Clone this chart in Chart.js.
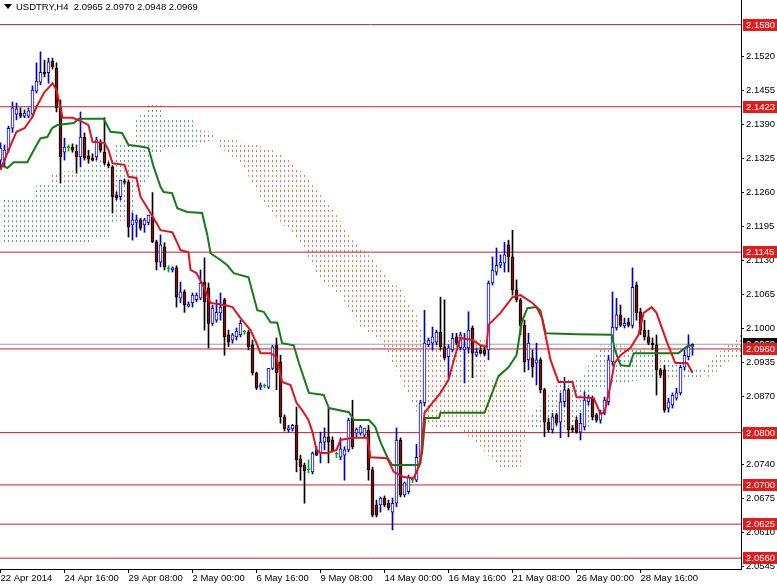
<!DOCTYPE html>
<html>
<head>
<meta charset="utf-8">
<script src="https://cdn.jsdelivr.net/npm/chart.js@4.4.1/dist/chart.umd.min.js"></script>
<style>
  html, body { margin: 0; padding: 0; background: #fff; }
  #wrap { width: 777px; height: 585px; }
</style>
</head>
<body>
<div id="wrap"><canvas id="chart" width="777" height="585"></canvas></div>
<script>
// USDTRY H4, 22 Apr - 30 May 2014, one bar every 4 hours
const symbolTitle = 'USDTRY,H4  2.0965 2.0970 2.0948 2.0969';

const dateTickBars = [0, 16, 32, 48, 64, 80, 96, 112, 128, 144, 160];
const dateLabels = ['22 Apr 2014', '24 Apr 16:00', '29 Apr 08:00', '2 May 00:00', '6 May 16:00',
  '9 May 08:00', '14 May 00:00', '16 May 16:00', '21 May 08:00', '26 May 00:00', '28 May 16:00'];

const priceTicks = [2.0545, 2.0610, 2.0675, 2.0740, 2.0805, 2.0870, 2.0935, 2.1000,
  2.1065, 2.1130, 2.1195, 2.1260, 2.1325, 2.1390, 2.1455, 2.1520];

// horizontal support / resistance lines
const levels = [2.1580, 2.1423, 2.1145, 2.0960, 2.0800, 2.0700, 2.0625, 2.0560];
const bidPrice = 2.0969;

const open = [
  2.1321, 2.1321, 2.1340, 2.1382, 2.1409, 2.1411, 2.1405, 2.1405, 2.1409, 2.1453,
  2.1470, 2.1489, 2.1488, 2.1510, 2.1497, 2.1421, 2.1336, 2.1345, 2.1346, 2.1338,
  2.1327, 2.1365, 2.1329, 2.1325, 2.1327, 2.1354, 2.1336, 2.1313, 2.1308, 2.1254,
  2.1251, 2.1281, 2.1279, 2.1197, 2.1202, 2.1207, 2.1197, 2.1202, 2.1212, 2.1165,
  2.1126, 2.1155, 2.1113, 2.1111, 2.1115, 2.1057, 2.1069, 2.1042, 2.1048, 2.1054,
  2.1057, 2.1088, 2.1077, 2.1009, 2.1015, 2.1029, 2.1054, 2.0987, 2.0977, 2.0983,
  2.0987, 2.0992, 2.0992, 2.0968, 2.0914, 2.0887, 2.0889, 2.0887, 2.0923, 2.0968,
  2.0935, 2.0830, 2.0805, 2.0807, 2.0814, 2.0750, 2.0738, 2.0729, 2.0725, 2.0767,
  2.0761, 2.0782, 2.0792, 2.0786, 2.0759, 2.0753, 2.0757, 2.0767, 2.0828, 2.0799,
  2.0799, 2.0795, 2.0805, 2.0729, 2.0662, 2.0662, 2.0675, 2.0665, 2.0648, 2.0665,
  2.0786, 2.0681, 2.0687, 2.0709, 2.0709, 2.0753, 2.0857, 2.0968, 2.0971, 2.0973,
  2.0992, 2.0964, 2.0945, 2.0958, 2.0983, 2.0962, 2.0958, 2.0962, 2.1000, 2.0948,
  2.0958, 2.0958, 2.0958, 2.1086, 2.1107, 2.1120, 2.1124, 2.1159, 2.1136, 2.1073,
  2.1054, 2.1005, 2.0939, 2.0943, 2.0933, 2.0939, 2.0882, 2.0820, 2.0805, 2.0834,
  2.0820, 2.0859, 2.0882, 2.0809, 2.0824, 2.0801, 2.0811, 2.0859, 2.0866, 2.0834,
  2.0824, 2.0837, 2.0859, 2.0935, 2.1000, 2.1025, 2.1004, 2.1011, 2.1005, 2.1082,
  2.1031, 2.0996, 2.0983, 2.0971, 2.0968, 2.0920, 2.0920, 2.0847, 2.0853, 2.0866,
  2.0876, 2.0925, 2.0945, 2.0965
];
const high = [
  2.1354, 2.1350, 2.1386, 2.1432, 2.1430, 2.1421, 2.1417, 2.1421, 2.1463, 2.1507,
  2.1528, 2.1512, 2.1516, 2.1516, 2.1507, 2.1436, 2.1363, 2.1350, 2.1352, 2.1350,
  2.1413, 2.1373, 2.1340, 2.1333, 2.1365, 2.1360, 2.1402, 2.1317, 2.1310, 2.1260,
  2.1283, 2.1285, 2.1283, 2.1220, 2.1216, 2.1210, 2.1210, 2.1216, 2.1259, 2.1168,
  2.1178, 2.1163, 2.1119, 2.1117, 2.1119, 2.1088, 2.1073, 2.1050, 2.1067, 2.1067,
  2.1111, 2.1134, 2.1086, 2.1044, 2.1054, 2.1067, 2.1057, 2.0996, 2.0990, 2.1000,
  2.1015, 2.0996, 2.0996, 2.0977, 2.0916, 2.0895, 2.0893, 2.0923, 2.0967, 2.0981,
  2.0948, 2.0834, 2.0814, 2.0816, 2.0849, 2.0757, 2.0742, 2.0748, 2.0763, 2.0773,
  2.0801, 2.0809, 2.0847, 2.0792, 2.0763, 2.0790, 2.0773, 2.0828, 2.0862, 2.0809,
  2.0814, 2.0805, 2.0814, 2.0734, 2.0671, 2.0677, 2.0679, 2.0671, 2.0675, 2.0809,
  2.0790, 2.0706, 2.0719, 2.0715, 2.0778, 2.0862, 2.1034, 2.0981, 2.1002, 2.0996,
  2.1059, 2.1054, 2.0968, 2.0990, 2.0990, 2.0992, 2.0990, 2.1031, 2.1004, 2.0962,
  2.0966, 2.0964, 2.1090, 2.1136, 2.1153, 2.1140, 2.1164, 2.1168, 2.1187, 2.1092,
  2.1057, 2.1015, 2.0990, 2.0958, 2.0971, 2.0943, 2.0885, 2.0828, 2.0837, 2.0837,
  2.0876, 2.0906, 2.0885, 2.0814, 2.0830, 2.0837, 2.0878, 2.0872, 2.0870, 2.0837,
  2.0843, 2.0868, 2.0948, 2.1069, 2.1057, 2.1044, 2.1019, 2.1019, 2.1115, 2.1088,
  2.1038, 2.1015, 2.0996, 2.0981, 2.0987, 2.0923, 2.0929, 2.0866, 2.0876, 2.0885,
  2.0929, 2.0958, 2.0987, 2.0970
];
const low = [
  2.1306, 2.1310, 2.1336, 2.1374, 2.1398, 2.1402, 2.1402, 2.1402, 2.1404, 2.1449,
  2.1465, 2.1480, 2.1468, 2.1495, 2.1413, 2.1277, 2.1321, 2.1338, 2.1336, 2.1296,
  2.1308, 2.1321, 2.1315, 2.1319, 2.1321, 2.1336, 2.1312, 2.1306, 2.1220, 2.1245,
  2.1245, 2.1275, 2.1174, 2.1168, 2.1174, 2.1187, 2.1183, 2.1197, 2.1163, 2.1111,
  2.1117, 2.1111, 2.1107, 2.1107, 2.1040, 2.1048, 2.1030, 2.1040, 2.1040, 2.1050,
  2.1054, 2.0996, 2.0962, 2.1005, 2.1011, 2.1015, 2.0948, 2.0964, 2.0971, 2.0977,
  2.0983, 2.0988, 2.0958, 2.0910, 2.0882, 2.0882, 2.0886, 2.0884, 2.0920, 2.0882,
  2.0818, 2.0803, 2.0801, 2.0803, 2.0725, 2.0709, 2.0665, 2.0723, 2.0721, 2.0756,
  2.0742, 2.0767, 2.0742, 2.0763, 2.0752, 2.0748, 2.0709, 2.0763, 2.0769, 2.0792,
  2.0795, 2.0792, 2.0709, 2.0639, 2.0639, 2.0648, 2.0658, 2.0652, 2.0614, 2.0658,
  2.0677, 2.0677, 2.0683, 2.0704, 2.0706, 2.0748, 2.0851, 2.0964, 2.0958, 2.0968,
  2.0958, 2.0939, 2.0905, 2.0954, 2.0968, 2.0958, 2.0895, 2.0952, 2.0905, 2.0945,
  2.0950, 2.0947, 2.0939, 2.1082, 2.1101, 2.1115, 2.1107, 2.1107, 2.1063, 2.1050,
  2.0987, 2.0916, 2.0920, 2.0906, 2.0891, 2.0876, 2.0792, 2.0801, 2.0799, 2.0814,
  2.0790, 2.0849, 2.0792, 2.0801, 2.0799, 2.0786, 2.0805, 2.0853, 2.0824, 2.0820,
  2.0818, 2.0834, 2.0853, 2.0929, 2.0996, 2.1002, 2.1000, 2.1002, 2.1000, 2.1015,
  2.0987, 2.0977, 2.0968, 2.0958, 2.0872, 2.0905, 2.0839, 2.0839, 2.0847, 2.0862,
  2.0872, 2.0920, 2.0939, 2.0948
];
const close = [
  2.1344, 2.1340, 2.1382, 2.1421, 2.1419, 2.1405, 2.1411, 2.1415, 2.1455, 2.1472,
  2.1489, 2.1486, 2.1509, 2.1499, 2.1421, 2.1327, 2.1346, 2.1345, 2.1340, 2.1327,
  2.1365, 2.1325, 2.1323, 2.1321, 2.1360, 2.1340, 2.1315, 2.1310, 2.1251, 2.1249,
  2.1283, 2.1279, 2.1193, 2.1207, 2.1207, 2.1191, 2.1207, 2.1216, 2.1165, 2.1126,
  2.1159, 2.1117, 2.1113, 2.1115, 2.1059, 2.1069, 2.1044, 2.1046, 2.1063, 2.1063,
  2.1086, 2.1050, 2.1009, 2.1038, 2.1030, 2.1040, 2.0983, 2.0973, 2.0987, 2.0994,
  2.1009, 2.0992, 2.0964, 2.0914, 2.0886, 2.0891, 2.0889, 2.0923, 2.0964, 2.0914,
  2.0830, 2.0807, 2.0809, 2.0814, 2.0748, 2.0735, 2.0727, 2.0729, 2.0761, 2.0757,
  2.0782, 2.0792, 2.0782, 2.0765, 2.0759, 2.0769, 2.0767, 2.0824, 2.0773, 2.0807,
  2.0811, 2.0809, 2.0729, 2.0642, 2.0642, 2.0675, 2.0662, 2.0656, 2.0665, 2.0786,
  2.0681, 2.0704, 2.0715, 2.0709, 2.0753, 2.0857, 2.0971, 2.0977, 2.0983, 2.0992,
  2.0964, 2.0943, 2.0962, 2.0981, 2.0971, 2.0987, 2.0964, 2.0996, 2.0952, 2.0954,
  2.0952, 2.0950, 2.1086, 2.1111, 2.1120, 2.1126, 2.1140, 2.1136, 2.1073, 2.1054,
  2.1005, 2.0935, 2.0971, 2.0925, 2.0939, 2.0882, 2.0820, 2.0805, 2.0830, 2.0818,
  2.0859, 2.0882, 2.0805, 2.0805, 2.0801, 2.0818, 2.0862, 2.0868, 2.0830, 2.0824,
  2.0837, 2.0862, 2.0939, 2.1002, 2.1025, 2.1005, 2.1009, 2.1005, 2.1078, 2.1029,
  2.0996, 2.0983, 2.0971, 2.0968, 2.0920, 2.0910, 2.0843, 2.0859, 2.0872, 2.0876,
  2.0925, 2.0948, 2.0964, 2.0969
];

// ichimoku lines, read as [bar, price] corners
const tenkan = [
  [0, 2.1302], [2, 2.1340], [4, 2.1375], [6, 2.1382], [8, 2.1404], [9, 2.1423], [11, 2.1451],
  [12, 2.1459], [13, 2.1468], [14, 2.1455], [15, 2.1421], [15.5, 2.1402], [18, 2.1402],
  [20.5, 2.1394], [22, 2.1388], [23, 2.1356], [26, 2.1354], [27, 2.1340], [28, 2.1315],
  [31, 2.1312], [32, 2.1289], [34, 2.1287], [35, 2.1251], [37, 2.1226], [39, 2.1201],
  [40, 2.1187], [43, 2.1183], [45, 2.1149], [47, 2.1145], [47.5, 2.1111], [49, 2.1105],
  [51, 2.1076], [52.5, 2.1048], [56, 2.1044], [58, 2.1040], [60, 2.1019], [62.5, 2.0996],
  [64, 2.0971], [65, 2.0952], [67.5, 2.0952], [69, 2.0945], [70.4, 2.0897], [72.5, 2.0891],
  [74, 2.0857], [75.4, 2.0843], [77, 2.0824], [78, 2.0801], [79, 2.0767], [80, 2.0761],
  [81.7, 2.0761], [84, 2.0767], [85, 2.0786], [88, 2.0790], [91.7, 2.0790], [92.5, 2.0753],
  [96.7, 2.0751], [98.3, 2.0725], [100.8, 2.0715], [103.3, 2.0713], [105, 2.0742],
  [106, 2.0838], [108, 2.0857], [110, 2.0876], [112, 2.0901], [113.5, 2.0943], [115, 2.0981],
  [118, 2.0977], [120, 2.0967], [121.5, 2.0964], [122, 2.1006], [125, 2.1029], [128, 2.1059],
  [130, 2.1063], [133, 2.1048], [135, 2.1033], [137.5, 2.0939], [139.5, 2.0897], [143, 2.0897],
  [144, 2.0868], [148.3, 2.0866], [150, 2.0836], [151, 2.0839], [152.5, 2.0891], [153.5, 2.0933],
  [155, 2.0948], [157.5, 2.0962], [159.5, 2.0987], [160.8, 2.1029], [162.8, 2.1040],
  [164, 2.1029], [166.7, 2.0971], [168.7, 2.0933], [171.7, 2.0933], [173, 2.0914]
];
const kijun = [
  [0, 2.1312], [1.7, 2.1306], [3.3, 2.1317], [6.7, 2.1317], [8.3, 2.1340], [10, 2.1363],
  [11.7, 2.1365], [12.9, 2.1382], [14.2, 2.1388], [18.3, 2.1392], [19.6, 2.1400], [25.8, 2.1400],
  [27.5, 2.1375], [30.4, 2.1373], [32, 2.1350], [34.2, 2.1348], [37, 2.1344], [38.3, 2.1308],
  [40, 2.1270], [40.8, 2.1260], [42.9, 2.1258], [44.2, 2.1229], [46.7, 2.1222], [50.4, 2.1220],
  [51.7, 2.1178], [52.5, 2.1143], [55, 2.1130], [56.7, 2.1120], [58.3, 2.1105], [62, 2.1097],
  [64.2, 2.1034], [65.8, 2.1031], [67.5, 2.1011], [69.2, 2.1010], [70.4, 2.0971], [73.3, 2.0967],
  [74.6, 2.0933], [77.1, 2.0876], [80.8, 2.0872], [82.1, 2.0847], [87.1, 2.0839], [88.3, 2.0824],
  [92.1, 2.0824], [93.7, 2.0811], [95, 2.0782], [96.7, 2.0753], [97.9, 2.0738], [104.6, 2.0738],
  [105.4, 2.0761], [106.2, 2.0828], [109.6, 2.0828], [110, 2.0838], [121, 2.0838],
  [122.5, 2.0868], [124.5, 2.0908], [127, 2.0925], [129, 2.0948], [130.3, 2.1011],
  [131.7, 2.1038], [134, 2.1040], [135.4, 2.1019], [136.3, 2.0990], [144, 2.0988],
  [152.8, 2.0987], [153.6, 2.0958], [155, 2.0929], [157.2, 2.0927], [158.3, 2.0952],
  [169.5, 2.0952], [172, 2.0967], [173.3, 2.0965]
];
const spanA = [
  [0, 2.1245], [8, 2.1245], [9, 2.1273], [12, 2.1277], [13, 2.1298], [20, 2.1302], [23, 2.1312],
  [24, 2.1321], [28, 2.1325], [29, 2.1354], [33, 2.1354], [34, 2.1402], [36, 2.1411],
  [37, 2.1426], [40, 2.1426], [41, 2.1398], [48, 2.1398], [49, 2.1379], [53, 2.1375],
  [55, 2.1344], [60, 2.1317], [65, 2.1249], [70, 2.1203], [75, 2.1163], [80, 2.1092],
  [85, 2.1063], [90, 2.1002], [95, 2.0977], [100, 2.0904], [105, 2.0824], [110, 2.0805],
  [115, 2.0805], [120, 2.0774], [125, 2.0729], [130, 2.0734], [131, 2.0786], [132, 2.0834],
  [135, 2.0851], [140, 2.0901], [145, 2.0904], [150, 2.0964], [155, 2.0967], [160, 2.0958],
  [165, 2.0947], [170, 2.0929], [175, 2.0920], [177, 2.0901], [181, 2.0933], [186, 2.0947]
];
const spanB = [
  [0, 2.1163], [22, 2.1163], [23, 2.1174], [27, 2.1174], [28, 2.1203], [33, 2.1207],
  [34, 2.1264], [37, 2.1283], [38, 2.1331], [41, 2.1340], [48, 2.1346], [53, 2.1360],
  [56, 2.1365], [60, 2.1356], [64, 2.1350], [68, 2.1340], [72, 2.1321], [76, 2.1293],
  [80, 2.1254], [84, 2.1216], [88, 2.1168], [92, 2.1140], [96, 2.1101], [100, 2.1073],
  [104, 2.1025], [106, 2.0977], [121, 2.0977], [122, 2.0901], [131, 2.0901], [132, 2.0805],
  [147, 2.0805], [148, 2.0882], [153, 2.0891], [160, 2.0901], [175, 2.0901], [176, 2.0922],
  [178, 2.0943], [181, 2.0962], [186, 2.0992]
];

const FONT = "'Liberation Sans', Arial, sans-serif";
const FONT_SIZE = 9.5;
const canvas = document.getElementById('chart');

// kumo is drawn as vertical dotted lines, one per bar
function dotPattern(color) {
  const c = document.createElement('canvas');
  c.width = 4;
  c.height = 5;
  const g = c.getContext('2d');
  g.fillStyle = color;
  g.fillRect(0, 0, 1, 2);
  return canvas.getContext('2d').createPattern(c, 'repeat');
}
const greenDots = dotPattern('rgb(88,164,128)');
const orangeDots = dotPattern('rgb(220,124,78)');

const pts = arr => arr.map(p => ({ x: p[0], y: p[1] }));
const kind = i => close[i] > open[i] ? 'up' : (close[i] < open[i] ? 'down' : 'doji');
const wickColor = { up: '#0000c8', down: '#000000', doji: '#00b000' };
const bodyFill = { up: '#ffffff', down: '#781414', doji: '#00b000' };

const levelSets = levels.map(v => ({
  type: 'line',
  data: [{ x: -1, y: v }, { x: 187, y: v }],
  borderColor: '#c41e2a',
  borderWidth: 1,
  pointRadius: 0,
  order: 15
}));

new Chart(canvas, {
  type: 'bar',
  data: {
    datasets: [
      {
        type: 'line', data: pts(spanA), borderColor: 'transparent', borderWidth: 0,
        pointRadius: 0, tension: 0, fill: false, order: 20
      },
      {
        type: 'line', data: pts(spanB), borderColor: 'transparent', borderWidth: 0,
        pointRadius: 0, tension: 0, order: 19,
        fill: { target: 0, above: orangeDots, below: greenDots }
      },
      ...levelSets,
      {
        type: 'line',
        data: [{ x: -1, y: bidPrice }, { x: 187, y: bidPrice }],
        borderColor: '#9aa0a8', borderWidth: 1, pointRadius: 0, order: 14
      },
      {
        // wicks
        data: open.map((o, i) => ({ x: i, y: [low[i], high[i]] })),
        barThickness: 1,
        grouped: false,
        backgroundColor: c => wickColor[kind(c.dataIndex)],
        order: 10
      },
      {
        // bodies
        data: open.map((o, i) => ({ x: i, y: [o, close[i]] })),
        barThickness: 3,
        minBarLength: 1,
        grouped: false,
        borderWidth: 1,
        borderSkipped: false,
        backgroundColor: c => bodyFill[kind(c.dataIndex)],
        borderColor: c => wickColor[kind(c.dataIndex)],
        order: 9
      },
      {
        type: 'line', data: pts(kijun), borderColor: '#167a16', borderWidth: 2,
        pointRadius: 0, tension: 0, order: 2
      },
      {
        type: 'line', data: pts(tenkan), borderColor: '#e0141e', borderWidth: 2,
        pointRadius: 0, tension: 0, order: 1
      }
    ]
  },
  options: {
    responsive: false,
    animation: false,
    devicePixelRatio: 1,
    layout: { padding: 0 },
    plugins: { legend: { display: false }, tooltip: { enabled: false } },
    scales: {
      x: {
        type: 'linear',
        min: -0.125,
        max: 185.125,
        offset: false,
        grid: { offset: false, drawOnChartArea: false, drawTicks: true, tickLength: 4, color: '#000' },
        border: { display: true, color: '#000' },
        afterBuildTicks: s => { s.ticks = dateTickBars.map(v => ({ value: v })); },
        afterFit: s => { s.height = 16; s.paddingLeft = 0; s.paddingRight = 0; },
        ticks: {
          autoSkip: false, maxRotation: 0, align: 'start', padding: 0, color: '#000',
          font: { family: FONT, size: FONT_SIZE },
          callback: (v, i) => dateLabels[i]
        }
      },
      y: {
        position: 'right',
        min: 2.05393,
        max: 2.16271,
        grid: { drawOnChartArea: false, tickLength: 3, color: '#000' },
        border: { display: true, color: '#000' },
        afterBuildTicks: s => { s.ticks = priceTicks.map(v => ({ value: v })); },
        afterFit: s => { s.width = 36; s.paddingTop = 0; s.paddingBottom = 0; },
        ticks: {
          autoSkip: false, padding: 2, color: '#000',
          font: { family: FONT, size: FONT_SIZE },
          callback: v => v.toFixed(4)
        }
      }
    }
  },
  plugins: [{
    id: 'mtLabels',
    afterDraw(chart) {
      const { ctx, chartArea, scales: { y } } = chart;
      const right = chartArea.right;
      ctx.save();
      ctx.font = FONT_SIZE + 'px ' + FONT;
      ctx.textBaseline = 'middle';
      const tag = (value, bg) => {
        const py = Math.round(y.getPixelForValue(value));
        ctx.fillStyle = bg;
        ctx.fillRect(right + 2, py - 6, chart.width - right - 2, 12);
        ctx.fillStyle = '#fff';
        ctx.fillText(value.toFixed(4), right + 5, py + 0.5);
      };
      tag(bidPrice, '#000');
      levels.forEach(v => tag(v, '#e41b1b'));

      // symbol line at top left
      ctx.fillStyle = '#000';
      ctx.beginPath();
      ctx.moveTo(4, 4);
      ctx.lineTo(12, 4);
      ctx.lineTo(8, 9);
      ctx.closePath();
      ctx.fill();
      ctx.fillText(symbolTitle, 16, 7);
      ctx.restore();
    }
  }]
});
</script>
</body>
</html>
